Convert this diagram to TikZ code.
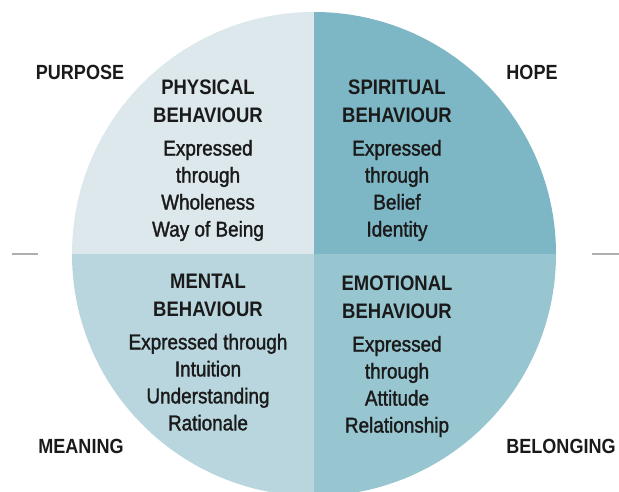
\documentclass[tikz,border=0pt]{standalone}
\usepackage{fontspec}
\setmainfont{Liberation Sans}[FakeStretch=0.88]
\newfontfamily\wheelbody{Liberation Sans}[FakeStretch=0.88, FakeBold=1.5]
\usetikzlibrary{positioning}
\definecolor{wheelPhys}{HTML}{DCE8EC}
\definecolor{wheelSpir}{HTML}{7DB6C4}
\definecolor{wheelMent}{HTML}{B9D6DE}
\definecolor{wheelEmot}{HTML}{97C5D0}
\definecolor{wheelInk}{HTML}{1A1A1A}
\definecolor{wheelRule}{HTML}{AFAFAF}

\begin{document}
\begin{tikzpicture}[
  x=1pt, y=-1pt, node distance=17pt,
  head/.style={font=\fontsize{21}{27.5}\selectfont\bfseries, text=wheelInk,
               align=center, inner sep=0pt, anchor=north},
  body/.style={font=\wheelbody\fontsize{21.5}{27}\selectfont, text=wheelInk,
               align=center, inner sep=0pt},
  outer/.style={font=\fontsize{20.5}{22}\selectfont\bfseries, text=wheelInk, inner sep=0pt},
  rule/.style={draw=wheelRule, line width=1.6pt}
]
  \useasboundingbox (0,0) rectangle (619,491);

  % Quadrants
  \begin{scope}
    \clip (314,254) circle[radius=242pt];
    \fill[wheelPhys] (60,0) rectangle (314,254);
    \fill[wheelSpir] (314,0) rectangle (570,254);
    \fill[wheelMent] (60,254) rectangle (314,510);
    \fill[wheelEmot] (314,254) rectangle (570,510);
  \end{scope}

  % Side rules
  \draw[rule] (12,254) -- (38,254);
  \draw[rule] (592,254) -- (619,254);

  % Behaviours
  \node[head] (physHead) at (208,80) {PHYSICAL\\BEHAVIOUR};
  \node[body, below=of physHead] (physBody) {Expressed\\through\\Wholeness\\Way of Being};
  \node[head] (spirHead) at (397,80) {SPIRITUAL\\BEHAVIOUR};
  \node[body, below=of spirHead] (spirBody) {Expressed\\through\\Belief\\Identity};
  \node[head] (mentHead) at (208,274) {MENTAL\\BEHAVIOUR};
  \node[body, below=of mentHead] (mentBody) {Expressed through\\Intuition\\Understanding\\Rationale};
  \node[head] (emotHead) at (397,276) {EMOTIONAL\\BEHAVIOUR};
  \node[body, below=of emotHead] (emotBody) {Expressed\\through\\Attitude\\Relationship};

  % Corners
  \node[outer] (purpose) at (80,72) {PURPOSE};
  \node[outer] (hope) at (532,72) {HOPE};
  \node[outer] (meaning) at (81,446) {MEANING};
  \node[outer] (belonging) at (561,446) {BELONGING};
\end{tikzpicture}
\end{document}
